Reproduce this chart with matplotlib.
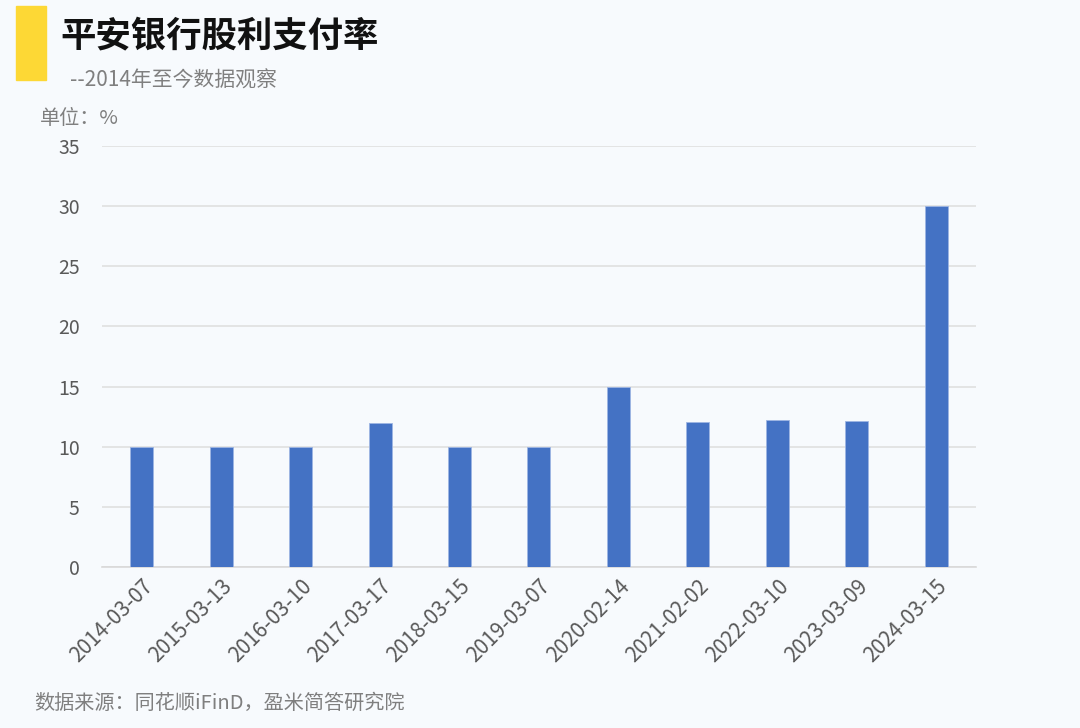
import matplotlib
matplotlib.use("Agg")
import matplotlib.pyplot as plt
from matplotlib.patches import Rectangle

plt.rcParams['font.family'] = ['Noto Sans CJK SC', 'DejaVu Sans']

dates = ['2014-03-07', '2015-03-13', '2016-03-10', '2017-03-17', '2018-03-15',
         '2019-03-07', '2020-02-14', '2021-02-02', '2022-03-10', '2023-03-09',
         '2024-03-15']
payout = [10.0, 10.0, 10.0, 12.0, 10.0, 10.0, 15.0, 12.05, 12.2, 12.1, 30.0]
yticks = [0, 5, 10, 15, 20, 25, 30, 35]

bg = '#F7FAFD'
fig = plt.figure(figsize=(10.8, 7.28), dpi=100, facecolor=bg)
ax = fig.add_axes([0.0944, 0.2212, 0.8093, 0.5783])
ax.set_facecolor(bg)

x = range(len(dates))
ax.bar(x, payout, width=0.29, color='#4472C4', edgecolor='#9DB5E3', linewidth=0.6, zorder=3)

ax.set_xlim(-0.5, len(dates) - 0.5)
ax.set_ylim(0, 35)
ax.set_yticks(yticks)
ax.set_xticks(list(x))
ax.set_xticklabels(dates, rotation=45, ha='right', rotation_mode='anchor')
ax.tick_params(axis='both', length=0, labelcolor='#595959')
ax.tick_params(axis='y', pad=16, labelsize=14)
ax.tick_params(axis='x', pad=6, labelsize=15)
ax.grid(axis='y', color='#E0E0E0', linewidth=1.2, zorder=0)
for s in ['top', 'right', 'left']:
    ax.spines[s].set_visible(False)
ax.spines['bottom'].set_color('#D9D9D9')
ax.spines['bottom'].set_linewidth(1.2)

# header
fig.add_artist(Rectangle((16 / 1080, 1 - 80 / 728), 30 / 1080, 74 / 728,
                         transform=fig.transFigure, color='#FDD835'))
fig.text(60 / 1080, 1 - 36 / 728, '平安银行股利支付率', fontsize=25.5, fontweight='bold',
         color='#111111', va='center')
fig.text(70 / 1080, 1 - 81 / 728, '--2014年至今数据观察', fontsize=15, color='#7F7F7F', va='center')
fig.text(40 / 1080, 1 - 118 / 728, '单位：%', fontsize=14.5, color='#7F7F7F', va='center')
fig.text(34 / 1080, 1 - 703 / 728, '数据来源：同花顺iFinD，盈米简答研究院', fontsize=14.5,
         color='#7F7F7F', va='center')

fig.savefig('out.png', dpi=100, facecolor=bg)
